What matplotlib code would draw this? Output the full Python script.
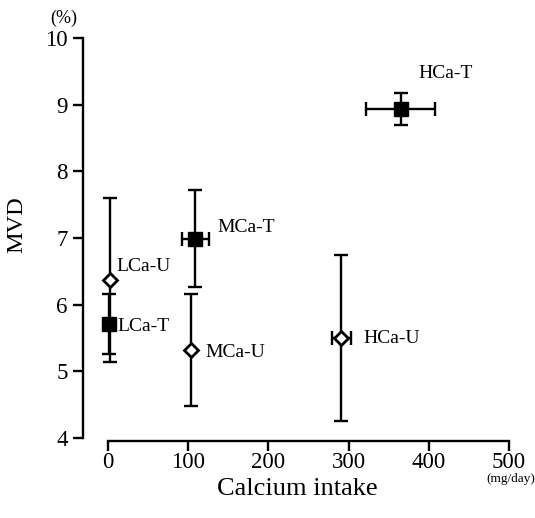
import matplotlib
matplotlib.use("Agg")
import matplotlib.pyplot as plt

plt.rcParams['font.family'] = ['Liberation Serif', 'DejaVu Serif']

groups = ["LCa-U", "LCa-T", "MCa-U", "MCa-T", "HCa-U", "HCa-T"]
calcium = [3, 1, 104, 109, 291, 365]
calcium_err = [0, 3, 0, 17, 12, 43]
mvd = [6.37, 5.71, 5.32, 6.99, 5.50, 8.93]
mvd_err = [1.23, 0.45, 0.84, 0.73, 1.24, 0.24]
treated = [False, True, False, True, False, True]
xticks = [0, 100, 200, 300, 400, 500]
yticks = [4, 5, 6, 7, 8, 9, 10]

label_offsets = {"LCa-U": (4, 9.5), "LCa-T": (6.5, -2), "MCa-U": (10, -1.5),
                 "MCa-T": (16, 8), "HCa-U": (16, 0), "HCa-T": (12.5, 26)}

fig = plt.figure(figsize=(5.35, 5.18), dpi=100)
W, H = 535, 518
ax = fig.add_axes([83 / W, 1 - 441 / H, (520 - 83) / W, (441 - 35) / H])

px_per_x = (509 - 108) / 500.0
ax.set_xlim(-25 / px_per_x, 500 + 11 / px_per_x)
px_per_y = (438 - 38) / 6.0
ax.set_ylim(4 - 3 / px_per_y, 10 + 3 / px_per_y)

for g, x, xe, y, ye, t in zip(groups, calcium, calcium_err, mvd, mvd_err, treated):
    ax.errorbar(x, y, yerr=ye, xerr=xe if xe > 0 else None, fmt='none',
                ecolor='black', elinewidth=1.7, capsize=5, capthick=1.7, zorder=2)
    if t:
        ax.plot(x, y, marker='s', markersize=10, color='black', zorder=3)
    else:
        ax.plot(x, y, marker='D', markersize=7.5, markerfacecolor='white',
                markeredgecolor='black', markeredgewidth=2, zorder=3)
    dx, dy = label_offsets[g]
    ax.annotate(g, (x, y), xytext=(dx, dy), textcoords='offset points',
                fontsize=14, ha='left', va='center')

for s in ['top', 'right']:
    ax.spines[s].set_visible(False)
ax.spines['left'].set_bounds(4, 10)
ax.spines['bottom'].set_bounds(0, 500)
ax.spines['left'].set_linewidth(1.7)
ax.spines['bottom'].set_linewidth(1.7)
ax.set_xticks(xticks)
ax.set_yticks(yticks)
ax.tick_params(axis='both', direction='out', length=7, width=1.7, labelsize=16.5)
ax.tick_params(axis='x', pad=1)
ax.tick_params(axis='y', pad=4)

ax.set_ylabel("MVD", fontsize=17.5)
ax.yaxis.set_label_coords(-(83 - 17) / (520 - 83), (441 - 225) / (441 - 35))
ax.set_xlabel("Calcium intake", fontsize=19)
ax.xaxis.set_label_coords((297 - 83) / (520 - 83), -(489 - 441) / (441 - 35))
ax.xaxis.label.set_va('center')
ax.yaxis.label.set_va('center')

fig.text(64 / W, 1 - 18 / H, "(%)", fontsize=13, ha='center', va='center')
fig.text(511 / W, 1 - 479 / H, "(mg/day)", fontsize=9.5, ha='center', va='center')

fig.savefig("out.png", dpi=100)
